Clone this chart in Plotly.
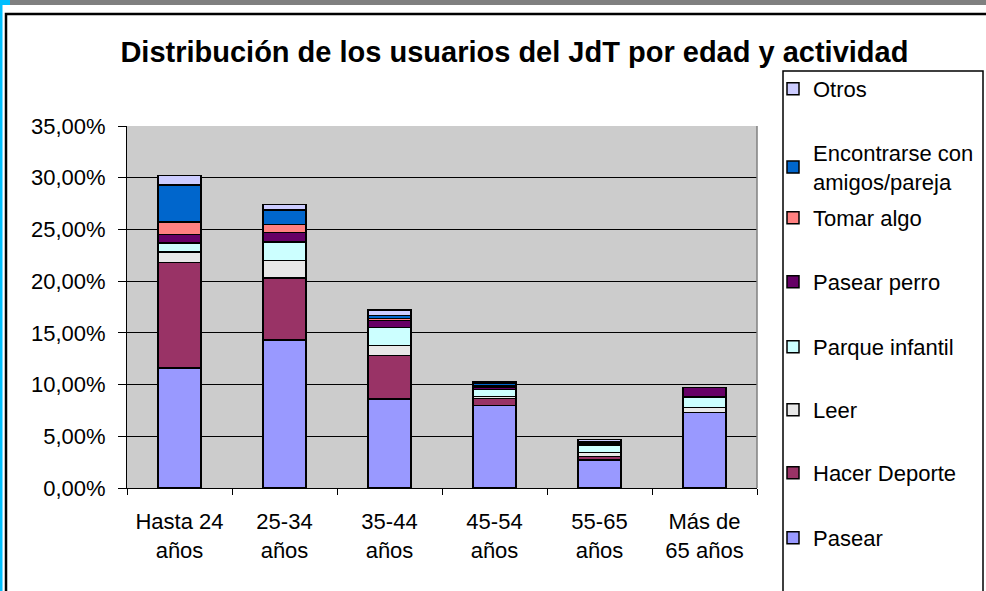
import plotly.graph_objects as go

# Categorias (grupos de edad)
categorias = ["Hasta 24<br>años", "25-34<br>años", "35-44<br>años",
              "45-54<br>años", "55-65<br>años", "Más de<br>65 años"]

# Porcentajes (%)
pasear = [11.6, 14.3, 8.6, 8.0, 2.7, 7.3]
hacer_deporte = [10.2, 6.0, 4.2, 0.65, 0.33, 0.0]
leer = [1.0, 1.7, 1.0, 0.2, 0.4, 0.5]
parque_infantil = [0.9, 1.8, 1.7, 0.65, 0.75, 1.0]
pasear_perro = [0.8, 0.9, 0.7, 0.25, 0.15, 0.9]
tomar_algo = [1.2, 0.8, 0.2, 0.15, 0.05, 0.0]
encontrarse = [3.6, 1.4, 0.3, 0.2, 0.1, 0.0]
otros = [0.9, 0.5, 0.5, 0.15, 0.2, 0.0]

series = [
    ("Pasear", pasear, "#9999FF"),
    ("Hacer Deporte", hacer_deporte, "#993366"),
    ("Leer", leer, "#E8E8E8"),
    ("Parque infantil", parque_infantil, "#CCFFFF"),
    ("Pasear perro", pasear_perro, "#660066"),
    ("Tomar algo", tomar_algo, "#FF8080"),
    ("Encontrarse con<br>amigos/pareja", encontrarse, "#0066CC"),
    ("Otros", otros, "#CCCCFF"),
]

# centro (px de pantalla) de la primera linea de cada entrada de leyenda
legend_px = [538, 473, 410, 347, 282, 218, 153, 89]

FONT = "Liberation Sans, Arial, sans-serif"
L, T, W, H = 127, 126, 630, 362  # area del grafico en px


def py(p):
    # px de pantalla -> coordenada "paper" vertical
    return (T + H - p) / H


fig = go.Figure()
legends = {}
for i, (nombre, valores, color) in enumerate(series):
    key = "legend" if i == 0 else "legend%d" % (i + 1)
    fig.add_trace(go.Bar(
        name=nombre,
        x=categorias,
        y=[v / 100 for v in valores],
        marker=dict(color=color, line=dict(color="black", width=1.5)),
        legend=key,
    ))
    legends[key] = dict(
        x=(773 - L) / W, xanchor="left",
        y=py(legend_px[i] - 21), yanchor="top",
        bgcolor="rgba(0,0,0,0)", borderwidth=0,
        font=dict(family=FONT, size=22, color="black"),
    )

fig.update_layout(
    width=986,
    height=591,
    barmode="stack",
    bargap=0.59,
    separators=",.",
    paper_bgcolor="white",
    plot_bgcolor="#CCCCCC",
    font=dict(family=FONT, size=22, color="black"),
    margin=dict(l=L, r=986 - L - W, t=T, b=591 - T - H, autoexpand=False),
    title=dict(
        text="<b>Distribución de los usuarios del JdT por edad y actividad</b>",
        x=0.5217, xanchor="center", y=0.912, yanchor="middle",
        font=dict(family=FONT, size=29, color="black"),
    ),
    showlegend=True,
    **legends,
)

fig.update_yaxes(
    range=[0, 0.35], dtick=0.05, tickformat=".2%",
    showgrid=True, gridcolor="black", gridwidth=1,
    showline=True, linecolor="black", linewidth=1,
    ticks="outside", ticklen=8, tickcolor="black",
    ticklabelstandoff=8, zeroline=False,
)
fig.update_xaxes(
    showline=True, linecolor="black", linewidth=1,
    ticks="outside", ticklen=6, tickcolor="black",
    tickson="boundaries", ticklabelstandoff=14,
)

# borde derecho gris del area del grafico
fig.add_shape(type="line", xref="paper", yref="paper",
              x0=1, x1=1, y0=0, y1=1, line=dict(color="#808080", width=1.5))
# caja de la leyenda
fig.add_shape(type="rect", xref="paper", yref="paper",
              x0=(783 - L) / W, x1=(983 - L) / W, y0=py(600), y1=py(71),
              line=dict(color="black", width=1.5), fillcolor="white", layer="below")
# marco del grafico y bordes de la captura
fig.add_shape(type="rect", xref="paper", yref="paper",
              x0=(6 - L) / W, x1=(995 - L) / W, y0=py(600), y1=py(14),
              line=dict(color="black", width=2.5), layer="below")
fig.add_shape(type="rect", xref="paper", yref="paper",
              x0=(0 - L) / W, x1=(990 - L) / W, y0=py(5), y1=py(0),
              line=dict(width=0), fillcolor="#808080")
fig.add_shape(type="rect", xref="paper", yref="paper",
              x0=(0 - L) / W, x1=(2.5 - L) / W, y0=py(595), y1=py(0),
              line=dict(width=0), fillcolor="#00BFFF")
fig.add_shape(type="rect", xref="paper", yref="paper",
              x0=(0 - L) / W, x1=(10 - L) / W, y0=py(5), y1=py(0),
              line=dict(width=0), fillcolor="#00BFFF")

fig.write_html("out.html", config={"displayModeBar": False},
               post_script="document.body.style.margin='0';")
